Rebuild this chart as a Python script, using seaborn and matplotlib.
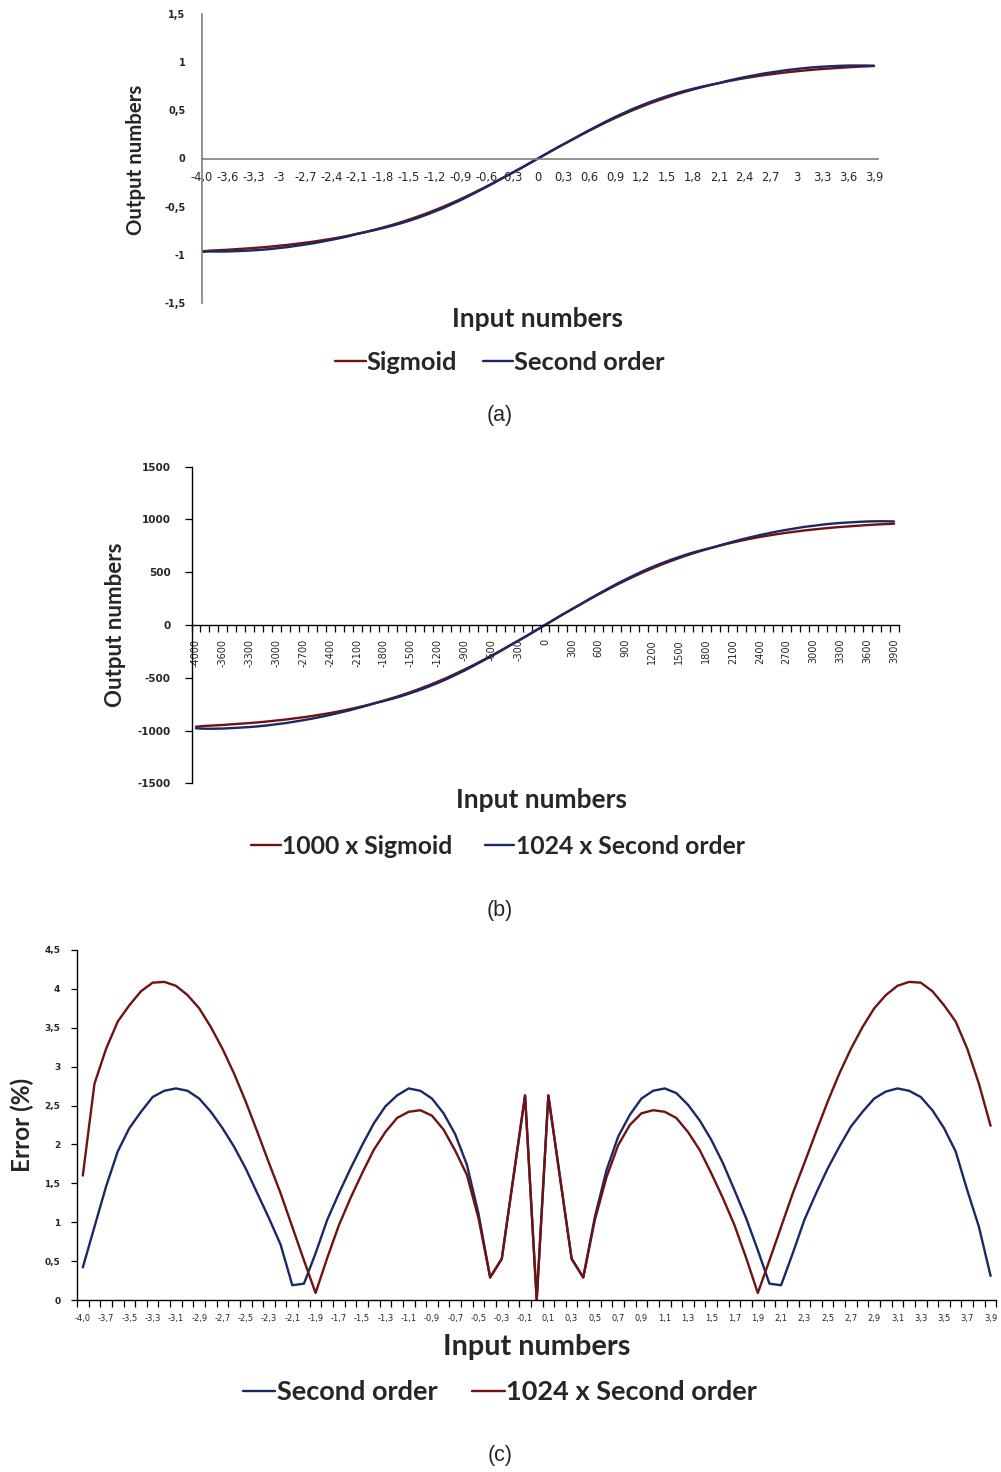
import numpy as np
import matplotlib
matplotlib.use("Agg")
import matplotlib.pyplot as plt
import seaborn as sns

# ---------------- data ----------------
x_values = [-4.0, -3.8, -3.7, -3.6, -3.5, -3.4, -3.3, -3.2, -3.1, -3.0,
            -2.9, -2.8, -2.7, -2.6, -2.5, -2.4, -2.3, -2.2, -2.1, -2.0,
            -1.9, -1.8, -1.7, -1.6, -1.5, -1.4, -1.3, -1.2, -1.1, -1.0,
            -0.9, -0.8, -0.7, -0.6, -0.5, -0.4, -0.3, -0.2, -0.1, 0.0,
            0.1, 0.2, 0.3, 0.4, 0.5, 0.6, 0.7, 0.8, 0.9, 1.0,
            1.1, 1.2, 1.3, 1.4, 1.5, 1.6, 1.7, 1.8, 1.9, 2.0,
            2.1, 2.2, 2.3, 2.4, 2.5, 2.6, 2.7, 2.8, 2.9, 3.0,
            3.1, 3.2, 3.3, 3.4, 3.5, 3.6, 3.7, 3.8, 3.9]

labels_a = ["-4,0", "-3,6", "-3,3", "-3", "-2,7", "-2,4", "-2,1", "-1,8", "-1,5",
            "-1,2", "-0,9", "-0,6", "-0,3", "0", "0,3", "0,6", "0,9", "1,2",
            "1,5", "1,8", "2,1", "2,4", "2,7", "3", "3,3", "3,6", "3,9"]

labels_b = ["-4000", "-3600", "-3300", "-3000", "-2700", "-2400", "-2100", "-1800",
            "-1500", "-1200", "-900", "-600", "-300", "0", "300", "600", "900",
            "1200", "1500", "1800", "2100", "2400", "2700", "3000", "3300", "3600", "3900"]

labels_c = ["-4,0", "-3,7", "-3,5", "-3,3", "-3,1", "-2,9", "-2,7", "-2,5", "-2,3", "-2,1",
            "-1,9", "-1,7", "-1,5", "-1,3", "-1,1", "-0,9", "-0,7", "-0,5", "-0,3", "-0,1",
            "0,1", "0,3", "0,5", "0,7", "0,9", "1,1", "1,3", "1,5", "1,7", "1,9",
            "2,1", "2,3", "2,5", "2,7", "2,9", "3,1", "3,3", "3,5", "3,7", "3,9"]

sigmoid = [-0.964, -0.956, -0.952, -0.947, -0.941, -0.935, -0.929, -0.922, -0.914, -0.905,
           -0.896, -0.885, -0.874, -0.862, -0.848, -0.834, -0.818, -0.801, -0.782, -0.762,
           -0.740, -0.716, -0.691, -0.664, -0.635, -0.604, -0.572, -0.537, -0.501, -0.462,
           -0.422, -0.380, -0.336, -0.291, -0.245, -0.197, -0.149, -0.100, -0.050, 0.0,
           0.050, 0.100, 0.149, 0.197, 0.245, 0.291, 0.336, 0.380, 0.422, 0.462,
           0.501, 0.537, 0.572, 0.604, 0.635, 0.664, 0.691, 0.716, 0.740, 0.762,
           0.782, 0.801, 0.818, 0.834, 0.848, 0.862, 0.874, 0.885, 0.896, 0.905,
           0.914, 0.922, 0.929, 0.935, 0.941, 0.947, 0.952, 0.956, 0.960]

second_order = [-0.968, -0.965, -0.966, -0.965, -0.962, -0.958, -0.953, -0.947, -0.939, -0.929,
                -0.919, -0.906, -0.893, -0.879, -0.862, -0.845, -0.827, -0.807, -0.783, -0.764,
                -0.744, -0.723, -0.700, -0.675, -0.648, -0.618, -0.586, -0.551, -0.515, -0.474,
                -0.433, -0.389, -0.343, -0.296, -0.248, -0.198, -0.150, -0.102, -0.051, 0.0,
                0.051, 0.102, 0.150, 0.198, 0.248, 0.296, 0.343, 0.389, 0.433, 0.474,
                0.515, 0.551, 0.586, 0.618, 0.648, 0.676, 0.701, 0.724, 0.745, 0.764,
                0.783, 0.806, 0.826, 0.845, 0.862, 0.879, 0.893, 0.906, 0.919, 0.929,
                0.939, 0.947, 0.953, 0.958, 0.962, 0.965, 0.965, 0.965, 0.963]

sigmoid_1000 = [-964, -956, -952, -947, -941, -935, -929, -922, -914, -905,
                -896, -885, -874, -862, -848, -834, -818, -801, -782, -762,
                -740, -716, -691, -664, -635, -604, -572, -537, -501, -462,
                -422, -380, -336, -291, -245, -197, -149, -100, -50, 0,
                50, 100, 149, 197, 245, 291, 336, 380, 422, 462,
                501, 537, 572, 604, 635, 664, 691, 716, 740, 762,
                782, 801, 818, 834, 848, 862, 874, 885, 896, 905,
                914, 922, 929, 935, 941, 947, 952, 956, 960]

second_order_1024 = [-979, -983, -983, -981, -977, -972, -967, -960, -951, -940,
                     -930, -916, -902, -887, -870, -852, -832, -812, -789, -766,
                     -741, -720, -698, -673, -645, -616, -584, -550, -513, -473,
                     -432, -388, -342, -296, -248, -198, -150, -102, -51, 0,
                     51, 102, 150, 198, 248, 296, 343, 389, 432, 473,
                     513, 550, 584, 616, 645, 673, 698, 720, 741, 766,
                     789, 812, 832, 852, 870, 887, 902, 916, 930, 940,
                     951, 960, 967, 972, 977, 981, 983, 983, 981]

err_second = [0.42, 0.94, 1.46, 1.91, 2.21, 2.42, 2.61, 2.69, 2.72, 2.69,
              2.59, 2.42, 2.21, 1.97, 1.69, 1.37, 1.05, 0.71, 0.19, 0.21,
              0.60, 1.03, 1.37, 1.69, 1.99, 2.27, 2.49, 2.63, 2.72, 2.69,
              2.59, 2.40, 2.13, 1.74, 1.11, 0.29, 0.53, 1.58, 2.63, 0.00,
              2.63, 1.58, 0.53, 0.29, 1.07, 1.67, 2.10, 2.38, 2.59, 2.69,
              2.72, 2.66, 2.51, 2.31, 2.06, 1.76, 1.41, 1.05, 0.64, 0.21,
              0.19, 0.60, 1.03, 1.37, 1.69, 1.97, 2.23, 2.42, 2.59, 2.68,
              2.72, 2.69, 2.61, 2.44, 2.21, 1.91, 1.41, 0.94, 0.31]

err_second_1024 = [1.60, 2.78, 3.23, 3.58, 3.79, 3.97, 4.08, 4.09, 4.04, 3.92,
                   3.75, 3.51, 3.23, 2.91, 2.55, 2.16, 1.76, 1.37, 0.94, 0.51,
                   0.09, 0.54, 0.96, 1.31, 1.63, 1.93, 2.16, 2.34, 2.42, 2.44,
                   2.37, 2.19, 1.92, 1.61, 1.05, 0.29, 0.53, 1.58, 2.63, 0.00,
                   2.63, 1.58, 0.53, 0.29, 1.03, 1.58, 1.99, 2.25, 2.40, 2.44,
                   2.42, 2.34, 2.16, 1.93, 1.63, 1.31, 0.96, 0.54, 0.09, 0.51,
                   0.94, 1.37, 1.76, 2.16, 2.55, 2.91, 3.23, 3.51, 3.75, 3.92,
                   4.04, 4.09, 4.08, 3.97, 3.79, 3.58, 3.23, 2.78, 2.24]

for arr in (sigmoid, second_order, sigmoid_1000, second_order_1024, err_second, err_second_1024):
    assert len(arr) == len(x_values)

# ---------------- style ----------------
sns.set_style("white")
plt.rcParams['font.family'] = ['DejaVu Sans']

RED = "#701212"
BLUE = "#1b2866"
LW = 1.7
W, H = 1001, 1472
fig = plt.figure(figsize=(W / 100, H / 100), dpi=100)
fig.patch.set_facecolor("white")


def fx(px):
    return px / W


def fy(py):
    return 1 - py / H


def axes_px(l, t, r, b):
    return fig.add_axes([l / W, 1 - b / H, (r - l) / W, (b - t) / H])


TITLE_FONT = ['Lato', 'DejaVu Sans']
pos = np.arange(len(x_values))


def legend_at(ax, x, y, size, colsp):
    handles, labels = ax.get_legend_handles_labels()
    ax.legend(handles, labels, loc='center', bbox_to_anchor=(fx(x), fy(y)),
              bbox_transform=fig.transFigure, ncol=2, frameon=False,
              prop=dict(family=TITLE_FONT, weight='bold', size=size),
              handlelength=1.2, handletextpad=0.05, columnspacing=colsp,
              borderaxespad=0, borderpad=0)


def title(x, y, s, size, rot=0):
    fig.text(fx(x), fy(y), s, ha='center', va='center', rotation=rot,
             family=TITLE_FONT, weight='bold', fontsize=size)


def caption(y, s):
    fig.text(fx(500), fy(y), s, ha='center', va='center',
             family=['Liberation Sans', 'DejaVu Sans'], fontsize=15.5)


# ---------------- panel (a) ----------------
ax = axes_px(202, 14, 878, 303)
sns.lineplot(x=pos, y=sigmoid, ax=ax, color=RED, lw=LW, label='Sigmoid')
sns.lineplot(x=pos, y=second_order, ax=ax, color=BLUE, lw=LW, label='Second order')
ax.set_xlim(0, 78.47)
ax.set_ylim(-1.5, 1.5)
for s in ('top', 'right'):
    ax.spines[s].set_visible(False)
ax.spines['bottom'].set_position(('data', 0))
ax.spines['bottom'].set_color('#7f7f7f')
ax.spines['left'].set_color('#7f7f7f')
ax.spines['bottom'].set_linewidth(1.2)
ax.spines['left'].set_linewidth(1.2)
ax.set_xticks(pos[::3])
ax.set_xticklabels(labels_a, fontsize=8.3)
ax.tick_params(axis='x', length=0, pad=9)
ax.set_yticks([-1.5, -1, -0.5, 0, 0.5, 1, 1.5])
ax.set_yticklabels(['-1,5', '-1', '-0,5', '0', '0,5', '1', '1,5'], fontsize=7, fontweight='bold')
ax.tick_params(axis='y', length=0, pad=12)
ax.set_xlabel('')
ax.set_ylabel('')
legend_at(ax, 500, 362, 18.3, 1.0)
title(537, 319, 'Input numbers', 19)
title(136, 160, 'Output numbers', 14.7, rot=90)
caption(415, '(a)')

# ---------------- panel (b) ----------------
ax = axes_px(191.5, 466.7, 898.5, 783.3)
sns.lineplot(x=pos, y=sigmoid_1000, ax=ax, color=RED, lw=LW, label='1000 x Sigmoid')
sns.lineplot(x=pos, y=second_order_1024, ax=ax, color=BLUE, lw=LW, label='1024 x Second order')
ax.set_xlim(-0.5, 78.5)
ax.set_ylim(-1500, 1500)
for s in ('top', 'right'):
    ax.spines[s].set_visible(False)
ax.spines['bottom'].set_position(('data', 0))
for s in ('bottom', 'left'):
    ax.spines[s].set_color('black')
    ax.spines[s].set_linewidth(1.0)
ax.set_xticks(pos[::3])
ax.set_xticklabels(labels_b, fontsize=7, rotation=90)
ax.set_xticks(np.arange(-0.5, 79, 1), minor=True)
ax.tick_params(axis='x', which='major', length=0, pad=10, bottom=True)
ax.tick_params(axis='x', which='minor', length=5, width=0.9, direction='out', bottom=True, color='black')
ax.set_yticks([-1500, -1000, -500, 0, 500, 1000, 1500])
ax.set_yticklabels(['-1500', '-1000', '-500', '0', '500', '1000', '1500'], fontsize=7.5, fontweight='bold')
ax.tick_params(axis='y', length=5, width=0.9, direction='out', left=True, pad=10, color='black')
ax.set_xlabel('')
ax.set_ylabel('')
legend_at(ax, 498, 846, 17.8, 1.3)
title(542, 800, 'Input numbers', 19)
title(115, 625, 'Output numbers', 16, rot=90)
caption(910, '(b)')

# ---------------- panel (c) ----------------
ax = axes_px(77, 950, 996.4, 1300)
sns.lineplot(x=pos, y=err_second, ax=ax, color=BLUE, lw=LW, label='Second order')
sns.lineplot(x=pos, y=err_second_1024, ax=ax, color=RED, lw=LW, label='1024 x Second order')
ax.set_xlim(-0.5, 78.5)
ax.set_ylim(0, 4.5)
for s in ('top', 'right'):
    ax.spines[s].set_visible(False)
for s in ('bottom', 'left'):
    ax.spines[s].set_color('black')
    ax.spines[s].set_linewidth(1.0)
ax.set_xticks(pos[::2])
ax.set_xticklabels(labels_c, fontsize=6)
ax.set_xticks(np.arange(-0.5, 79, 1), minor=True)
ax.tick_params(axis='x', which='major', length=0, pad=10, bottom=True)
ax.tick_params(axis='x', which='minor', length=5, width=0.9, direction='out', bottom=True, color='black')
ax.set_yticks([0, 0.5, 1, 1.5, 2, 2.5, 3, 3.5, 4, 4.5])
ax.set_yticklabels(['0', '0,5', '1', '1,5', '2', '2,5', '3', '3,5', '4', '4,5'], fontsize=6.5, fontweight='bold')
ax.tick_params(axis='y', length=4, width=0.9, direction='out', left=True, pad=8, color='black')
ax.set_xlabel('')
ax.set_ylabel('')
legend_at(ax, 500, 1392, 19.5, 1.3)
title(537, 1347, 'Input numbers', 20.8)
title(22, 1125, 'Error (%)', 17.5, rot=90)
caption(1455, '(c)')

fig.savefig("out.png", dpi=100, facecolor="white")
